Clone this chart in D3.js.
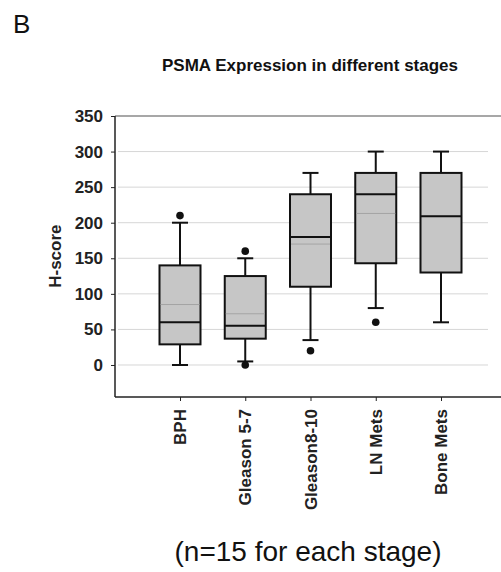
<!DOCTYPE html>
<html>
<head>
<meta charset="utf-8">
<title>PSMA box plot</title>
<script src="https://d3js.org/d3.v7.min.js"></script>
<style>
  body { margin: 0; background: #fff; }
  text { font-family: "Liberation Sans", Arial, sans-serif; }
</style>
</head>
<body>
<script>
var categories = ["BPH", "Gleason 5-7", "Gleason8-10", "LN Mets", "Bone Mets"];
var whiskerLow  = [0, 5, 35, 80, 60];
var q1          = [29, 37, 110, 143, 130];
var median      = [60, 55, 180, 240, 209];
var q3          = [140, 125, 240, 270, 270];
var whiskerHigh = [200, 150, 270, 300, 300];
var meanValues  = [85, 72, 170, 213, 209];
var outlierCats   = ["BPH", "Gleason 5-7", "Gleason 5-7", "Gleason8-10", "LN Mets"];
var outlierValues = [210, 160, 0, 20, 60];
var yTicks = [0, 50, 100, 150, 200, 250, 300, 350];

var width = 501, height = 572;
var plot = {left: 115, right: 501, top: 116, bottom: 397};

var svg = d3.select("body").append("svg")
    .attr("width", width)
    .attr("height", height);

var x = d3.scalePoint().domain(categories).range([180, 441]);
var y = d3.scaleLinear().domain([-45, 350]).range([plot.bottom, plot.top]);

// gridlines
svg.append("g").selectAll("line").data(yTicks.slice(0, -1)).enter().append("line")
    .attr("x1", plot.left + 3).attr("x2", 488)
    .attr("y1", function(d){ return y(d); })
    .attr("y2", function(d){ return y(d); })
    .attr("stroke", "#d6d6d6").attr("stroke-width", 1);

// top frame
svg.append("line")
    .attr("x1", plot.left).attr("x2", plot.right)
    .attr("y1", y(350)).attr("y2", y(350))
    .attr("stroke", "#8a8a8a").attr("stroke-width", 1.5);

// y axis
var yAxis = d3.axisLeft(y).tickValues(yTicks).tickSize(4).tickPadding(8);
var yg = svg.append("g").attr("transform", "translate(" + plot.left + ",0)").call(yAxis);
yg.select(".domain").remove();
yg.selectAll(".tick line").attr("stroke", "#222");
yg.selectAll("text").attr("font-size", 17).attr("font-weight", "bold")
    .attr("fill", "#222").attr("font-family", "Liberation Sans, Arial, sans-serif");
svg.append("line")
    .attr("x1", plot.left).attr("x2", plot.left)
    .attr("y1", plot.top).attr("y2", plot.bottom)
    .attr("stroke", "#222").attr("stroke-width", 1.5);

// x axis
var xAxis = d3.axisBottom(x).tickSize(4).tickFormat("");
var xg = svg.append("g").attr("transform", "translate(0," + plot.bottom + ")").call(xAxis);
xg.select(".domain").remove();
xg.selectAll(".tick line").attr("stroke", "#222");
svg.append("line")
    .attr("x1", plot.left).attr("x2", plot.right)
    .attr("y1", plot.bottom).attr("y2", plot.bottom)
    .attr("stroke", "#222").attr("stroke-width", 1.5);

svg.append("g").selectAll("text").data(categories).enter().append("text")
    .attr("transform", function(d){ return "translate(" + x(d) + "," + (plot.bottom + 12) + ") rotate(-90)"; })
    .attr("text-anchor", "end")
    .attr("dy", "0.36em")
    .attr("font-size", 17).attr("font-weight", "bold").attr("fill", "#222")
    .text(function(d){ return d; });

// boxes
var boxW = 41, capW = 16;
var boxes = svg.append("g").selectAll("g").data(categories).enter().append("g");

boxes.append("line")
    .attr("x1", function(d){ return x(d); }).attr("x2", function(d){ return x(d); })
    .attr("y1", function(d, i){ return y(whiskerLow[i]); })
    .attr("y2", function(d, i){ return y(whiskerHigh[i]); })
    .attr("stroke", "#111").attr("stroke-width", 2);
boxes.append("line")
    .attr("x1", function(d){ return x(d) - capW / 2; }).attr("x2", function(d){ return x(d) + capW / 2; })
    .attr("y1", function(d, i){ return y(whiskerHigh[i]); })
    .attr("y2", function(d, i){ return y(whiskerHigh[i]); })
    .attr("stroke", "#111").attr("stroke-width", 2);
boxes.append("line")
    .attr("x1", function(d){ return x(d) - capW / 2; }).attr("x2", function(d){ return x(d) + capW / 2; })
    .attr("y1", function(d, i){ return y(whiskerLow[i]); })
    .attr("y2", function(d, i){ return y(whiskerLow[i]); })
    .attr("stroke", "#111").attr("stroke-width", 2);
boxes.append("rect")
    .attr("x", function(d){ return x(d) - boxW / 2; })
    .attr("width", boxW)
    .attr("y", function(d, i){ return y(q3[i]); })
    .attr("height", function(d, i){ return y(q1[i]) - y(q3[i]); })
    .attr("fill", "#c6c6c6").attr("stroke", "#111").attr("stroke-width", 2);
boxes.append("line")
    .attr("x1", function(d){ return x(d) - boxW / 2 + 1; }).attr("x2", function(d){ return x(d) + boxW / 2 - 1; })
    .attr("y1", function(d, i){ return y(meanValues[i]); })
    .attr("y2", function(d, i){ return y(meanValues[i]); })
    .attr("stroke", "#a4a4a4").attr("stroke-width", 1);
boxes.append("line")
    .attr("x1", function(d){ return x(d) - boxW / 2; }).attr("x2", function(d){ return x(d) + boxW / 2; })
    .attr("y1", function(d, i){ return y(median[i]); })
    .attr("y2", function(d, i){ return y(median[i]); })
    .attr("stroke", "#111").attr("stroke-width", 2);

// outliers
svg.append("g").selectAll("circle").data(outlierValues).enter().append("circle")
    .attr("cx", function(d, i){ return x(outlierCats[i]); })
    .attr("cy", function(d){ return y(d); })
    .attr("r", 3.8)
    .attr("fill", "#111");

// titles
svg.append("text").attr("x", 13).attr("y", 33)
    .attr("font-family", "Open Sans, sans-serif").attr("font-size", 26).attr("fill", "#111")
    .text("B");
svg.append("text").attr("x", 310).attr("y", 71)
    .attr("text-anchor", "middle").attr("font-size", 17).attr("font-weight", "bold").attr("fill", "#111")
    .text("PSMA Expression in different stages");
svg.append("text")
    .attr("transform", "translate(61," + y(153) + ") rotate(-90)")
    .attr("text-anchor", "middle")
    .attr("font-size", 17).attr("font-weight", "bold").attr("fill", "#222")
    .text("H-score");
svg.append("text").attr("x", 308).attr("y", 561)
    .attr("text-anchor", "middle")
    .attr("font-family", "Open Sans, sans-serif").attr("font-size", 28).attr("fill", "#111")
    .text("(n=15 for each stage)");
</script>
</body>
</html>
